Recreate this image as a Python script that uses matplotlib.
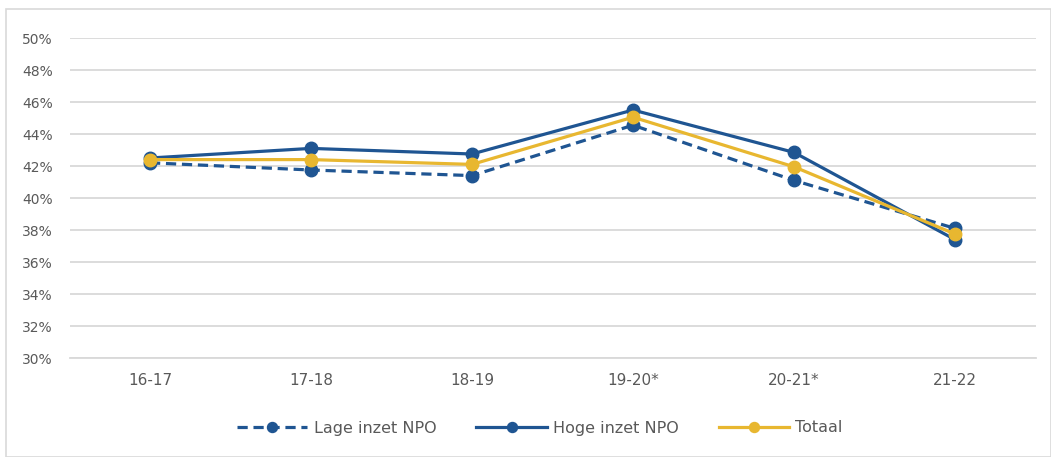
import matplotlib.pyplot as plt
from matplotlib.patches import Rectangle

# Data
categories = ['16-17', '17-18', '18-19', '19-20*', '20-21*', '21-22']
lage = [42.2, 41.75, 41.4, 44.55, 41.1, 38.1]
hoge = [42.5, 43.1, 42.75, 45.5, 42.85, 37.4]
totaal = [42.4, 42.4, 42.1, 45.05, 41.95, 37.75]
yticks = [30, 32, 34, 36, 38, 40, 42, 44, 46, 48, 50]

blue = '#1f5592'
gold = '#e8b730'
text_grey = '#595959'

fig = plt.figure(figsize=(10.51, 4.57), dpi=100)
ax = fig.add_axes([69.5 / 1051, 1 - 358 / 457, 966 / 1051, 320 / 457])

x = list(range(len(categories)))
ax.plot(x, lage, color=blue, lw=2.3, ls=(0, (3.2, 1.8)), marker='o', ms=9,
        label='Lage inzet NPO', zorder=3)
ax.plot(x, hoge, color=blue, lw=2.3, marker='o', ms=9,
        label='Hoge inzet NPO', zorder=4)
ax.plot(x, totaal, color=gold, lw=2.3, marker='o', ms=9,
        label='Totaal', zorder=5)

ax.set_xlim(-0.5, len(categories) - 0.5)
ax.set_ylim(30, 50)
ax.set_yticks(yticks)
ax.set_yticklabels([f'{v}%' for v in yticks])
ax.set_xticks(x)
ax.set_xticklabels(categories)
ax.grid(axis='y', color='#d9d9d9', lw=1.3)
ax.set_axisbelow(True)
for s in ['top', 'right', 'left']:
    ax.spines[s].set_visible(False)
ax.spines['bottom'].set_color('#d9d9d9')
ax.spines['bottom'].set_linewidth(1.3)
ax.tick_params(axis='both', length=0, colors=text_grey)
ax.tick_params(axis='y', pad=12, labelsize=10)
ax.tick_params(axis='x', pad=11, labelsize=11)

fig.legend(loc='center', bbox_to_anchor=(540 / 1051, 1 - 428 / 457), ncol=3,
           frameon=False, fontsize=11.5, labelcolor=text_grey,
           handlelength=4.4, columnspacing=2.5, handletextpad=0.4,
           markerscale=0.8)

fig.patches.append(Rectangle((6 / 1051, 0), 1 - 6 / 1051, 1 - 9 / 457,
                             transform=fig.transFigure, fill=False,
                             edgecolor='#d9d9d9', lw=1.2))

fig.savefig('out.png', dpi=100)
